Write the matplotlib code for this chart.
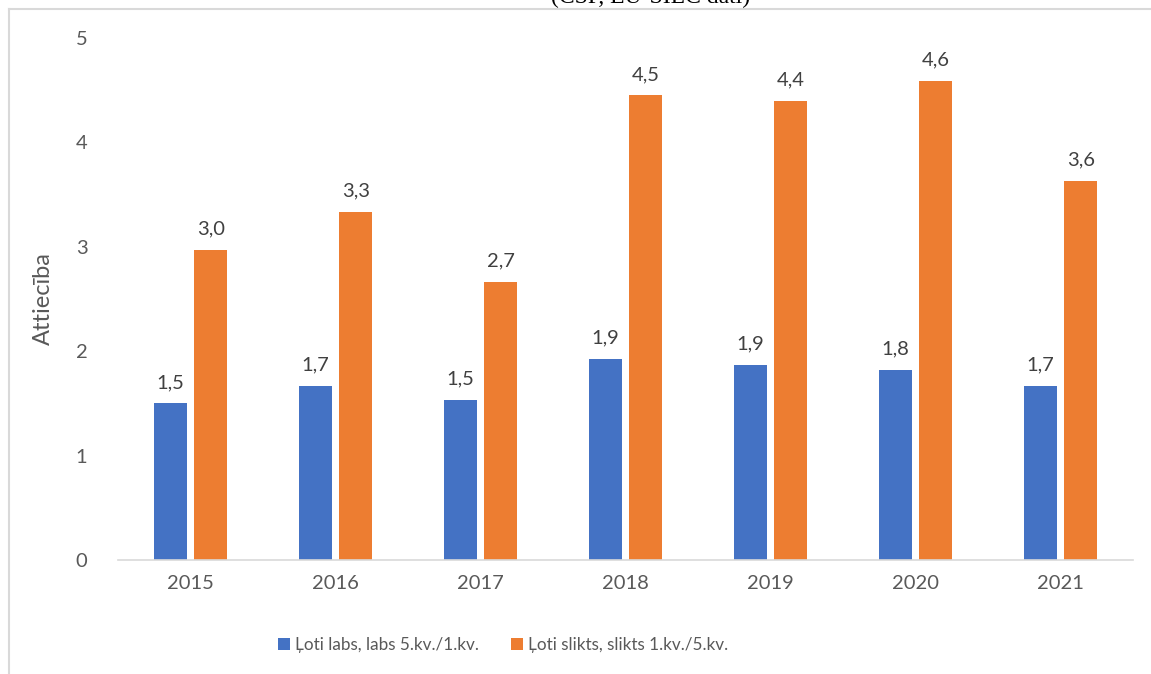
import numpy as np
import matplotlib.pyplot as plt
from matplotlib.lines import Line2D

# Ratios by year (quintile ratios)
years = ["2015", "2016", "2017", "2018", "2019", "2020", "2021"]
good_ratio = [1.50, 1.67, 1.53, 1.93, 1.87, 1.82, 1.67]
bad_ratio = [2.97, 3.33, 2.66, 4.45, 4.40, 4.59, 3.63]

series_names = ["Ļoti labs, labs 5.kv./1.kv.", "Ļoti slikts, slikts 1.kv./5.kv."]
y_ticks = [0, 1, 2, 3, 4, 5]

BLUE = "#4472C4"
ORANGE = "#ED7D31"
TEXT = "#595959"
LINE = "#D9D9D9"

plt.rcParams["font.family"] = ["Lato", "DejaVu Sans"]

fig = plt.figure(figsize=(11.51, 6.74), dpi=100)
W, H = 1151, 674
ax = fig.add_axes([118 / W, 1 - 560 / H, (1133 - 118) / W, (560 - 38) / H])

x = np.arange(len(years))
width = 0.228
offset = 0.141

bars_good = ax.bar(x - offset, good_ratio, width, color=BLUE, label=series_names[0])
bars_bad = ax.bar(x + offset, bad_ratio, width, color=ORANGE, label=series_names[1])

for bars, vals in ((bars_good, good_ratio), (bars_bad, bad_ratio)):
    for b, v in zip(bars, vals):
        ax.annotate(f"{v:.1f}".replace(".", ","),
                    (b.get_x() + b.get_width() / 2, v),
                    xytext=(0, 9), textcoords="offset points",
                    ha="center", va="bottom", fontsize=14.5, color="#404040")

ax.set_xlim(-0.5, len(years) - 0.5)
ax.set_ylim(0, 5)
ax.set_xticks(x)
ax.set_xticklabels(years)
ax.set_yticks(y_ticks)
ax.tick_params(axis="both", length=0, labelsize=14.5, labelcolor=TEXT)
ax.tick_params(axis="y", pad=22)
ax.tick_params(axis="x", pad=11)

for side in ("top", "right", "left"):
    ax.spines[side].set_visible(False)
ax.spines["bottom"].set_color(LINE)
ax.spines["bottom"].set_linewidth(1.2)

ax.set_ylabel("Attiecība", fontsize=17, color=TEXT, labelpad=16)

ax.legend(loc="center", bbox_to_anchor=(503 / W, 1 - 645 / H),
          bbox_transform=fig.transFigure, ncol=2, frameon=False,
          fontsize=12.3, labelcolor=TEXT, handlelength=0.7, handleheight=0.7,
          handletextpad=0.3, columnspacing=1.9)

# chart frame
fig.add_artist(Line2D([9 / W, 9 / W], [0, 1 - 9 / H], color=LINE, lw=1.5))
fig.add_artist(Line2D([9 / W, 1], [1 - 9 / H, 1 - 9 / H], color=LINE, lw=1.5))

# source line above the frame
fig.text(651 / W, 1 - 8 / H, "(CSP, EU-SILC dati)", ha="center", va="bottom",
         fontsize=17, family="Liberation Serif", color="black")

fig.savefig("out.png", dpi=100)
